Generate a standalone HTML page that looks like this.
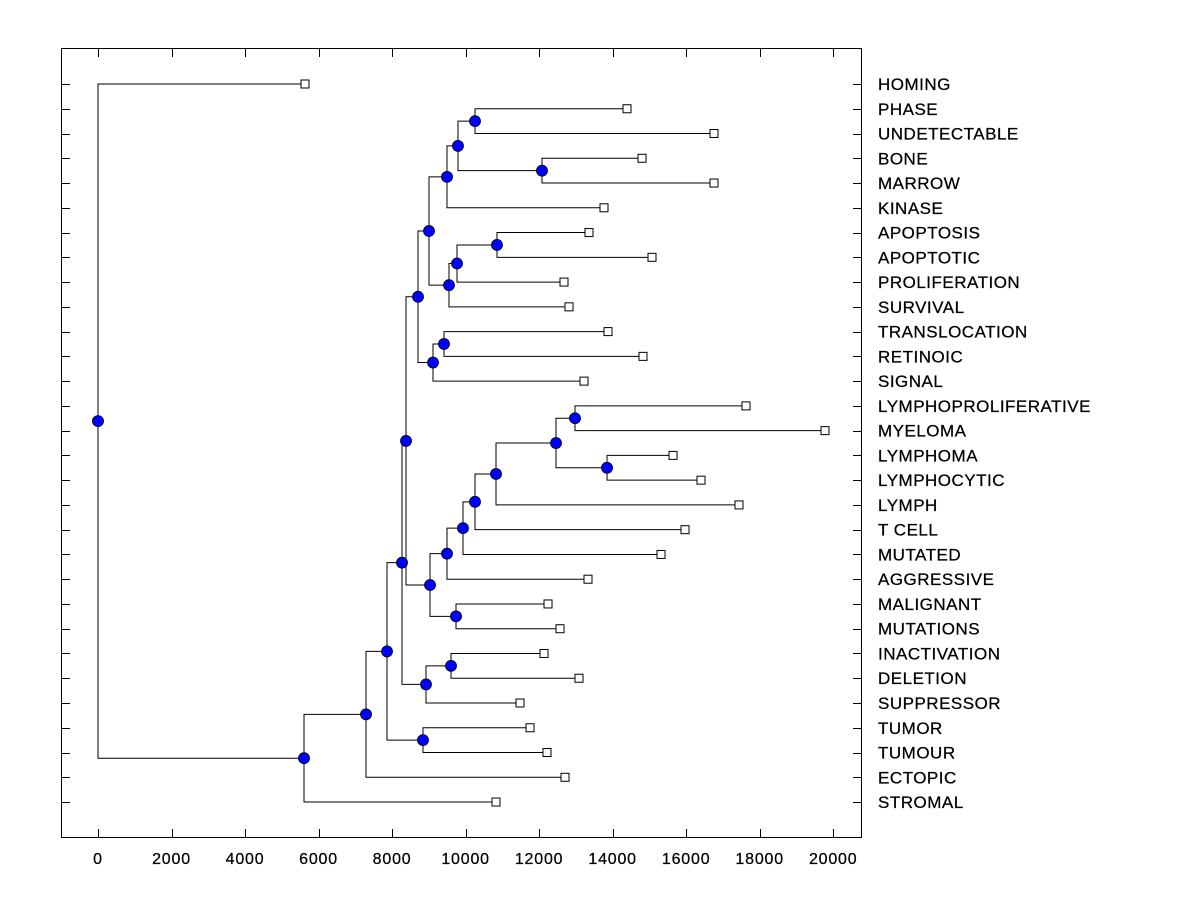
<!DOCTYPE html>
<html><head><meta charset="utf-8"><style>
body{margin:0;background:#fff}
svg text{font-family:"Liberation Sans",Arial,sans-serif;fill:#000;stroke:#000;stroke-width:0.25}
</style></head><body>
<svg id="chart" width="1200" height="900">
<rect x="61.5" y="48.5" width="800" height="789" fill="none" stroke="#000"/>
<g id="axes"></g><g id="links"></g><g id="marks"></g><g id="labels"></g>
</svg>
<script>
const leafLabels=["HOMING","PHASE","UNDETECTABLE","BONE","MARROW","KINASE","APOPTOSIS","APOPTOTIC","PROLIFERATION","SURVIVAL","TRANSLOCATION","RETINOIC","SIGNAL","LYMPHOPROLIFERATIVE","MYELOMA","LYMPHOMA","LYMPHOCYTIC","LYMPH","T CELL","MUTATED","AGGRESSIVE","MALIGNANT","MUTATIONS","INACTIVATION","DELETION","SUPPRESSOR","TUMOR","TUMOUR","ECTOPIC","STROMAL"];
const leafHeights=[5631,14391,16757,14799,16757,13765,13357,15071,12677,12813,13874,14826,13221,17628,19777,15642,16404,17437,15969,15316,13330,12242,12568,12133,13085,11480,11752,12214,12704,10827];
const nodeHeights=[0,5604,7291,7862,8270,8841,8379,8923,8705,9032,9603,9004,9113,9494,9739,9494,9548,9412,9929,9793,9766,10256,10256,12078,10854,10827,12459,12976,13847];
const nodeLeft=["L0","N2","N3","N4","N6","L26","N8","N10","N11","N13","L23","N15","N17","N18","L21","N19","N20","L10","N21","N22","N24","N25","L1","L3","L6","N26","N27","L13","L15"];
const nodeRight=["N1","L29","L28","N5","N7","L27","N9","L25","N12","N14","L24","N16","L12","L20","L22","L5","L9","L11","L19","N23","L8","L18","L2","L4","L7","L17","N28","L14","L16"];
const xTicks=[0,2000,4000,6000,8000,10000,12000,14000,16000,18000,20000];

const NS="http://www.w3.org/2000/svg";
const xs=v=>98+v*0.03676;
const ys=i=>84+i*24.76;
function mk(tag,attrs,parent){const e=document.createElementNS(NS,tag);for(const k in attrs)e.setAttribute(k,attrs[k]);document.getElementById(parent).appendChild(e);return e;}

xTicks.forEach(t=>{
  const x=Math.round(xs(t))+0.5;
  let e=mk("line",{x1:x,x2:x,y1:49,y2:57,stroke:"#000"},"axes");
  
  
  e=mk("line",{x1:x,x2:x,y1:829,y2:837,stroke:"#000"},"axes");
  
  
  e=mk("text",{x:xs(t),y:864,"font-size":"16","letter-spacing":"0.8","text-anchor":"middle"},"axes");
  e.textContent=t;
  
  
});
leafLabels.forEach((l,i)=>{
  const y=Math.round(ys(i))+0.5;
  let e=mk("line",{x1:62,x2:70,y1:y,y2:y,stroke:"#000"},"axes");
  
  
  e=mk("line",{x1:853,x2:861,y1:y,y2:y,stroke:"#000"},"axes");
  
  
  e=mk("text",{x:878,y:ys(i)+6,"font-size":"17","letter-spacing":"0.5"},"labels");
  e.textContent=l;
  
  
});

const pos={};
function get(id){
  if(pos[id])return pos[id];
  const k=+id.slice(1);
  if(id[0]==="L"){pos[id]={x:xs(leafHeights[k]),y:ys(k)};}
  else{const a=get(nodeLeft[k]),b=get(nodeRight[k]);pos[id]={x:xs(nodeHeights[k]),y:(a.y+b.y)/2};}
  return pos[id];
}
nodeHeights.forEach((h,k)=>{
  const p=get("N"+k),a=get(nodeLeft[k]),b=get(nodeRight[k]);
  const d=`M${a.x},${a.y}H${p.x}V${b.y}H${b.x}`;
  const e=mk("path",{d:d,fill:"none",stroke:"#000","stroke-width":"1"},"links");
  
  
});
leafHeights.forEach((h,k)=>{
  const p=get("L"+k);
  const e=mk("rect",{x:p.x-4,y:p.y-4,width:8,height:8,fill:"#fff",stroke:"#000"},"marks");
  
  
});
nodeHeights.forEach((h,k)=>{
  const p=get("N"+k);
  const e=mk("circle",{cx:p.x,cy:p.y,r:5.5,fill:"#0000ff",stroke:"#000","stroke-width":"0.8"},"marks");
  
  
});
</script>
</body></html>
